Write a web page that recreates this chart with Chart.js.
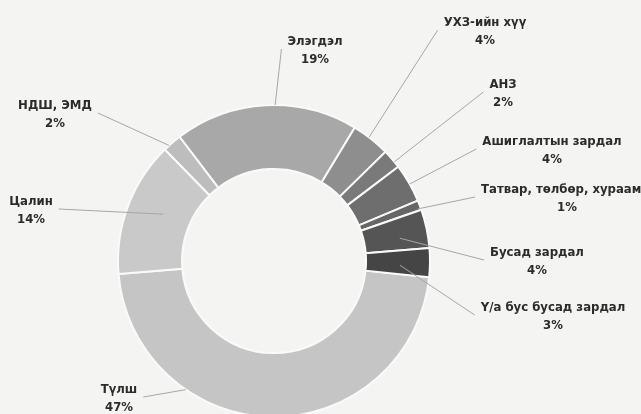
<!DOCTYPE html>
<html lang="mn">
<head>
<meta charset="utf-8">
<script src="https://cdn.jsdelivr.net/npm/chart.js@4.4.1/dist/chart.umd.min.js"></script>
<style>
  html, body { margin: 0; padding: 0; background: #f4f4f2; overflow: hidden; }
  #wrap { width: 641px; height: 420px; }
</style>
</head>
<body>
<div id="wrap"><canvas id="zardal" width="641" height="420"></canvas></div>
<script>
// ангилал, эзлэх хувь (цагийн зүүний дагуу, Түлшнээс эхэлнэ)
const categories = [
  "Түлш", "Цалин", "НДШ, ЭМД", "Элэгдэл", "УХЗ-ийн хүү",
  "АНЗ", "Ашиглалтын зардал", "Татвар, төлбөр, хураамж", "Бусад зардал", "Ү/а бус бусад зардал"
];
const shares = [47, 14, 2, 19, 4, 2, 4, 1, 4, 3];
const shadeColors = [
  "#c5c5c5", "#c9c9c9", "#bdbdbd", "#a8a8a8", "#8e8e8e",
  "#7a7a7a", "#6e6e6e", "#666666", "#555555", "#454545"
];

// шошгын байрлал (цагирагийн төвөөс, px) ба зураасын төгсгөл
const labelOffsets = [
  [-155, 129], [-243, -59], [-219, -155], [41, -219], [211, -238],
  [229, -176], [278, -119], [293, -71], [263, -8], [279, 47]
];
const anchorFrac = [0.70, 0.55, 0.3, 0.55, 0.44, 0.68, 0.53, 0.8, 0.62, 0.62];
const anchorDepth = [1, 0.44, 1, 1, 1, 1, 1, 0.95, 0.56, 0.53];

const leaderLabels = {
  id: "leaderLabels",
  afterDatasetsDraw(chart) {
    const ctx = chart.ctx;
    const arcs = chart.getDatasetMeta(0).data;
    ctx.save();
    ctx.font = "bold 13px 'Liberation Sans Narrow', 'DejaVu Sans Condensed', sans-serif";
    ctx.textAlign = "center";
    ctx.textBaseline = "middle";
    arcs.forEach((arc, i) => {
      const p = arc.getProps(["x", "y", "startAngle", "endAngle", "innerRadius", "outerRadius"], true);
      const ang = p.startAngle + (p.endAngle - p.startAngle) * anchorFrac[i];
      const r = p.innerRadius + (p.outerRadius - p.innerRadius) * anchorDepth[i];
      const ex = p.x + Math.cos(ang) * r;
      const ey = p.y + Math.sin(ang) * r;
      const tx = p.x + labelOffsets[i][0];
      const ty = p.y + labelOffsets[i][1];
      const pct = shares[i] + "%";
      const w = Math.max(ctx.measureText(categories[i]).width, ctx.measureText(pct).width);
      const sx = ex < tx ? tx - w / 2 - 6 : tx + w / 2 + 6;
      const sy = ty + 7;

      ctx.strokeStyle = "#a6a6a6";
      ctx.lineWidth = 1;
      ctx.beginPath();
      ctx.moveTo(sx, sy);
      ctx.lineTo(ex, ey);
      ctx.stroke();

      ctx.fillStyle = "#2b2b2b";
      ctx.fillText(categories[i], tx, ty);
      ctx.fillText(pct, tx, ty + 18);
    });
    ctx.restore();
  }
};

new Chart(document.getElementById("zardal"), {
  type: "doughnut",
  data: {
    labels: categories,
    datasets: [{
      data: shares,
      backgroundColor: shadeColors,
      borderColor: "#fafafa",
      borderWidth: 2
    }]
  },
  options: {
    responsive: false,
    animation: false,
    rotation: 96,
    cutout: "59%",
    layout: { padding: { left: 117, right: 210, top: 104, bottom: 2 } },
    plugins: {
      legend: { display: false },
      tooltip: { enabled: false }
    }
  },
  plugins: [leaderLabels]
});
</script>
</body>
</html>
